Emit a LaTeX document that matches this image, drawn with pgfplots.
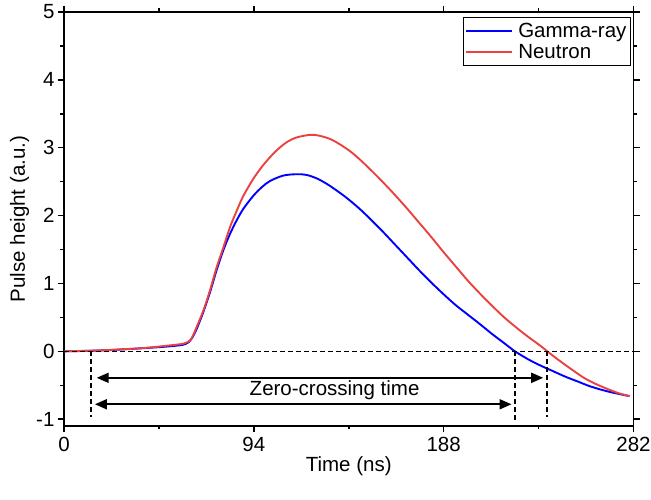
\documentclass[border=0pt]{standalone}
\usepackage{fontspec}
\setmainfont{Liberation Sans}
\usepackage{pgfplots}
\pgfplotsset{compat=1.18}
\usetikzlibrary{arrows.meta}
\definecolor{gblue}{RGB}{0,0,255}
\definecolor{nred}{RGB}{235,65,65}
\newcommand{\fs}{\fontsize{20.5}{24}\selectfont}

\begin{document}
\begin{tikzpicture}
\begin{axis}[
    scale only axis, width=569.5pt, height=414pt,
    xmin=0, xmax=282, ymin=-1.1, ymax=5,
    xtick={0,94,188,282}, ytick={-1,0,1,2,3,4,5},
    minor x tick num=1, minor y tick num=1,
    tick align=outside,
    major tick length=6pt, minor tick length=3.5pt,
    axis line style={line width=1.6pt},
    every tick/.style={line width=1.5pt, black},
    ticklabel style={font=\fs},
    xticklabel style={yshift=-2pt},
    /pgf/number format/assume math mode=true,
    label style={font=\fs},
    xlabel={Time (ns)}, ylabel={Pulse height (a.u.)},
    xlabel style={at={(axis description cs:0.5,-0.097)}, anchor=center},
    ylabel style={at={(axis description cs:-0.078,0.5)}, anchor=center},
    legend style={at={(axis description cs:0.996,0.988)}, anchor=north east,
        draw=black, line width=1.5pt, font=\fs, fill=white,
        inner xsep=2pt, inner ysep=3.5pt, row sep=1.5pt,
        /tikz/every odd column/.style={column sep=3pt}},
    legend cell align=left,
    legend image code/.code={\draw[#1, line width=1.8pt] (0pt,0pt) -- (46pt,0pt);},
]
\addplot[gblue, line width=1.9pt, smooth] coordinates {
    (0,0) (10,0.006) (20,0.015) (30,0.03) (40,0.048) (50,0.068) (56,0.085)
    (59.1,0.098) (61.5,0.13) (63.5,0.2) (65.7,0.33) (69,0.58) (72.3,0.87)
    (75.6,1.20) (78.9,1.49) (82.2,1.73) (85.5,1.93) (88.8,2.10) (93.7,2.29)
    (98,2.42) (102,2.51) (108.6,2.59) (115.2,2.61) (120,2.60) (125,2.55)
    (130,2.47) (135,2.37) (140,2.26) (146,2.11) (152,1.94) (158,1.76)
    (164,1.57) (170,1.38) (176,1.19) (182,1.01) (188,0.84) (194,0.68)
    (200,0.54) (206,0.40) (212,0.255) (218,0.12) (223.3,0.0) (230,-0.12)
    (236,-0.21) (242,-0.29) (248,-0.37) (254,-0.44) (260,-0.51)
    (266,-0.565) (272,-0.61) (280,-0.66)};
\addlegendentry{Gamma-ray}
\addplot[nred, line width=1.9pt, smooth] coordinates {
    (0,0) (10,0.007) (20,0.017) (30,0.032) (40,0.05) (52.5,0.088)
    (59.1,0.113) (62.4,0.16) (64,0.24) (65.7,0.36) (69,0.60) (72.3,0.90)
    (75.6,1.24) (78.9,1.53) (82.2,1.83) (85.5,2.07) (88.8,2.29) (93.7,2.54)
    (98,2.72) (102,2.86) (106,2.98) (110.2,3.08) (115,3.15) (121.8,3.19)
    (126,3.18) (131.7,3.13) (136.6,3.05) (141.6,2.95) (146,2.84) (152,2.67)
    (158,2.49) (164,2.30) (170,2.10) (176,1.89) (182,1.68) (188,1.46)
    (194,1.25) (200,1.04) (206,0.85) (212,0.67) (218,0.50) (224,0.35)
    (230,0.21) (236,0.08) (239.3,0.0) (245,-0.13) (252,-0.28) (258,-0.40)
    (264,-0.49) (270,-0.565) (275,-0.62) (280,-0.66)};
\addlegendentry{Neutron}
% dashed guides
\addplot[black, line width=1.6pt, dash pattern=on 5pt off 3pt, forget plot]
    coordinates {(0,0) (282,0)};
\addplot[black, line width=1.6pt, dash pattern=on 5pt off 3pt, forget plot]
    coordinates {(13.4,0) (13.4,-0.97)};
\addplot[black, line width=1.6pt, dash pattern=on 5pt off 3pt, forget plot]
    coordinates {(223.3,0) (223.3,-1.04)};
\addplot[black, line width=1.6pt, dash pattern=on 5pt off 3pt, forget plot]
    coordinates {(239.3,0) (239.3,-0.97)};
% arrows
\addplot[black, line width=1.8pt, forget plot,
    {Triangle[length=12pt,width=10pt]}-{Triangle[length=12pt,width=10pt]}]
    coordinates {(16.2,-0.39) (237.3,-0.39)};
\addplot[black, line width=1.8pt, forget plot,
    {Triangle[length=12pt,width=10pt]}-{Triangle[length=12pt,width=10pt]}]
    coordinates {(15.3,-0.78) (221.6,-0.78)};
\node[font=\fs] at (axis cs:134,-0.575) {Zero-crossing time};
\end{axis}
\pgfresetboundingbox
\useasboundingbox (-64pt,-74pt) rectangle (587pt,426pt);
\end{tikzpicture}
\end{document}
